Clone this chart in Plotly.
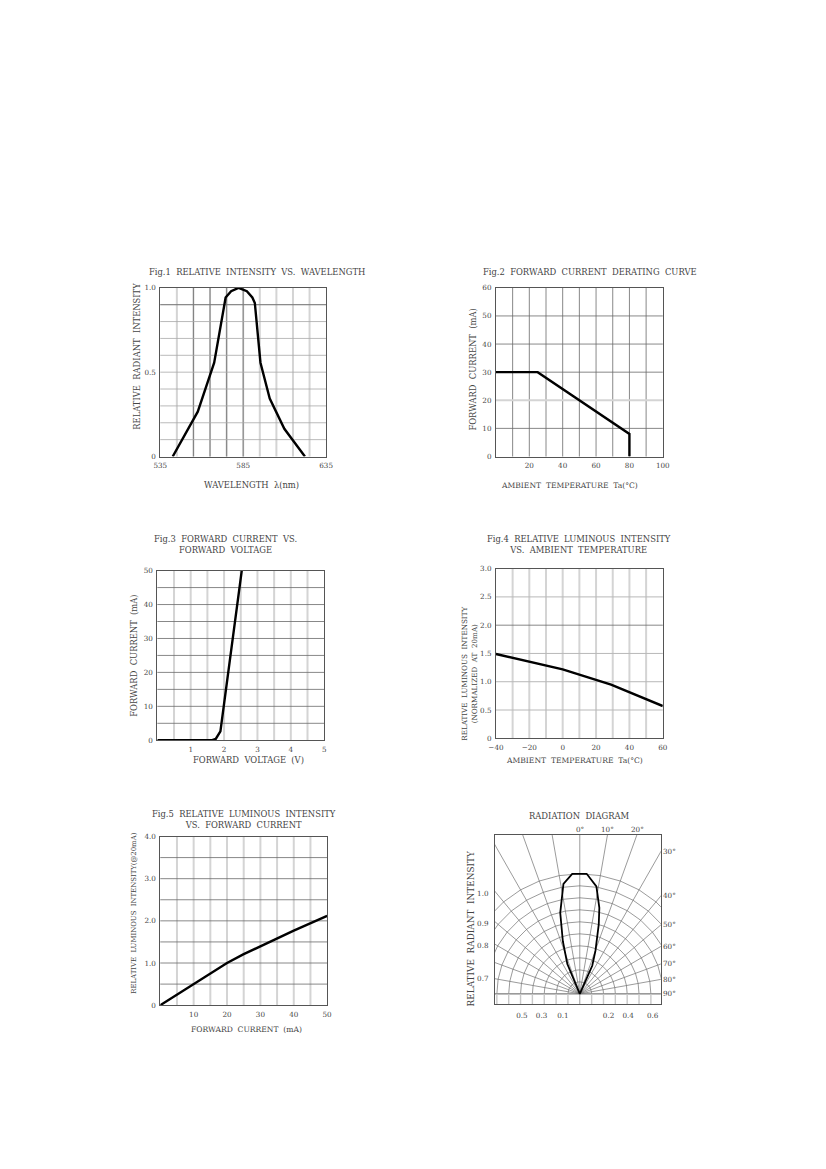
import numpy as np
import plotly.graph_objects as go

# ---- data ----
# Fig.1 relative intensity vs wavelength
wl_nm = [542.5, 557.6, 567.5, 574.4, 577.7, 582.2, 587.2, 590.5, 592.0, 595.4, 601.0, 609.8, 622.2]
rel_int = [0.0, 0.266, 0.556, 0.943, 0.98, 1.0, 0.98, 0.943, 0.91, 0.556, 0.344, 0.164, 0.0]

# Fig.2 forward current derating curve
derate_ta = [0, 25, 80, 80]
derate_if = [30, 30, 8, 0]

# Fig.3 forward current vs forward voltage
vf = [0.0, 1.62, 1.75, 1.89, 2.53]
if_ma = [0.0, 0.0, 0.4, 2.6, 50.0]

# Fig.4 relative luminous intensity vs ambient temperature
amb_ta = [-40, -9, 0, 29, 60]
lum_ta = [1.49, 1.28, 1.22, 0.95, 0.57]

# Fig.5 relative luminous intensity vs forward current
fwd_ma = [0, 10, 20, 25, 30, 40, 50]
lum_if = [0.0, 0.5, 1.0, 1.21, 1.4, 1.77, 2.12]

# radiation diagram pattern (diagram units, one arc = 1)
pattern_x = [0.0, -1.05, -1.43, -1.65, -1.38, -0.64, 0.58, 1.40, 1.65, 1.60, 1.32, 1.05, 0.0]
pattern_y = [0.0, 2.48, 4.38, 6.75, 9.15, 10.0, 10.0, 8.95, 7.16, 5.79, 3.58, 2.34, 0.0]
ray_angles = list(range(-90, 91, 10))
arc_radii = list(range(1, 11))
radial_tick_pos = [8.4, 5.83, 4.0, 1.29]
radial_tick_text = ["1.0", "0.9", "0.8", "0.7"]
bottom_tick_pos = [-4.88, -3.23, -1.43, 2.43, 4.08, 6.15]
bottom_tick_text = ["0.5", "0.3", "0.1", "0.2", "0.4", "0.6"]
top_angle_labels = [0, 10, 20]
side_angle_labels = [30, 40, 50, 60, 70, 80, 90]

# page is 826x1169, the browser puts the figure 8px in from the top-left
OFF = 8
W, H = 826 - 2 * OFF, 1169 - 2 * OFF
FONT = "DejaVu Serif"
TXT = "#444444"
LIGHT = "#d4d4d4"
DARK = "#6a6a6a"
AXC = "#555555"

fig = go.Figure()


def fx(px):
    return (px - OFF) / W


def fy(py):
    return 1 - (py - OFF) / H


def sfx(n):
    return "" if n == 1 else str(n)


def add_axes(n, box, xr, yr, xt, xtt, yt, ytt):
    left, right, top, bottom = box
    s = sfx(n)
    common = dict(showgrid=False, zeroline=False, showline=True, mirror=True,
                  linecolor=AXC, linewidth=1, ticks="", fixedrange=True,
                  ticklabelstandoff=2,
                  tickfont=dict(size=7.2, family=FONT, color=TXT))
    fig.update_layout(**{
        "xaxis" + s: dict(domain=[fx(left), fx(right)], range=xr, anchor="y" + s,
                          tickmode="array", tickvals=xt, ticktext=xtt, **common),
        "yaxis" + s: dict(domain=[fy(bottom), fy(top)], range=yr, anchor="x" + s,
                          tickmode="array", tickvals=yt, ticktext=ytt, **common),
    })


def grid(n, xs=(), ys=(), color=LIGHT, width=2):
    s = sfx(n)
    for v in xs:
        fig.add_shape(type="line", xref="x" + s, yref="y" + s + " domain",
                      x0=v, x1=v, y0=0, y1=1, layer="below",
                      line=dict(color=color, width=width))
    for v in ys:
        fig.add_shape(type="line", xref="x" + s + " domain", yref="y" + s,
                      x0=0, x1=1, y0=v, y1=v, layer="below",
                      line=dict(color=color, width=width))


def curve(n, x, y, width=2.4):
    s = sfx(n)
    fig.add_trace(go.Scatter(x=x, y=y, xaxis="x" + s, yaxis="y" + s, mode="lines",
                             line=dict(color="black", width=width),
                             showlegend=False, hoverinfo="skip"))


def label(x, y, text, size=8.4, angle=0):
    fig.add_annotation(x=fx(x), y=fy(y), xref="paper", yref="paper", text=text,
                       showarrow=False, textangle=angle, xanchor="center", yanchor="middle",
                       font=dict(size=size, family=FONT, color=TXT))


sp = "\u00a0\u00a0"

# Fig.1
add_axes(1, (155, 324, 286, 456), [535, 635], [0, 1],
         [535, 585, 635], ["535", "585", "635"], [0, 0.5, 1], ["0", "0.5", "1.0"])
grid(1, xs=np.arange(545, 635, 10))
grid(1, xs=[555, 565, 575, 585], color=DARK, width=0.8)
grid(1, ys=np.arange(0.1, 0.95, 0.1), color="#a8a8a8", width=0.8)
grid(1, ys=[0.9], color=DARK, width=0.8)
curve(1, wl_nm, rel_int)
label(254, 270, "Fig.1" + sp + "RELATIVE" + sp + "INTENSITY" + sp + "VS." + sp + "WAVELENGTH")
label(131.7, 355, "RELATIVE" + sp + "RADIANT" + sp + "INTENSITY", angle=-90)
label(248, 485, "WAVELENGTH" + sp + "λ(nm)")

# Fig.2
add_axes(2, (497, 667, 286, 456), [0, 100], [0, 60],
         [20, 40, 60, 80, 100], ["20", "40", "60", "80", "100"],
         list(range(0, 61, 10)), [str(v) for v in range(0, 61, 10)])
grid(2, xs=range(10, 100, 10), color=DARK, width=0.8)
grid(2, ys=[20], color=LIGHT, width=2)
grid(2, ys=[10, 30, 40, 50], color=DARK, width=0.8)
curve(2, derate_ta, derate_if)
label(593, 270, "Fig.2" + sp + "FORWARD" + sp + "CURRENT" + sp + "DERATING" + sp + "CURVE")
label(474, 368, "FORWARD" + sp + "CURRENT" + sp + "(mA)", angle=-90)
label(572, 485, "AMBIENT" + sp + "TEMPERATURE" + sp + "Ta(°C)", size=7.6)

# Fig.3
add_axes(3, (152, 322, 571, 742), [0, 5], [0, 50],
         [1, 2, 3, 4, 5], ["1", "2", "3", "4", "5"],
         list(range(0, 51, 10)), [str(v) for v in range(0, 51, 10)])
grid(3, xs=np.arange(0.5, 5, 0.5))
grid(3, ys=range(5, 50, 5), color=DARK, width=0.8)
curve(3, vf, if_ma)
label(221, 545, "Fig.3" + sp + "FORWARD" + sp + "CURRENT" + sp + "VS.<br>FORWARD" + sp + "VOLTAGE")
label(128, 657, "FORWARD" + sp + "CURRENT" + sp + "(mA)", angle=-90)
label(245, 762, "FORWARD" + sp + "VOLTAGE" + sp + "(V)")

# Fig.4
add_axes(4, (497, 667, 569, 740), [-40, 60], [0, 3],
         list(range(-40, 61, 20)), ["\u221240", "\u221220", "0", "20", "40", "60"],
         [0, 0.5, 1, 1.5, 2, 2.5, 3], ["0", "0.5", "1.0", "1.5", "2.0", "2.5", "3.0"])
grid(4, xs=range(-30, 60, 10))
grid(4, ys=[0.5, 1.0, 1.5, 2.5], color="#b8b8b8", width=1)
grid(4, ys=[2.0], color=DARK, width=0.8)
curve(4, amb_ta, lum_ta)
label(582, 545, "Fig.4" + sp + "RELATIVE" + sp + "LUMINOUS" + sp + "INTENSITY<br>VS." + sp + "AMBIENT" + sp + "TEMPERATURE")
label(469.5, 675, "RELATIVE" + sp + "LUMINOUS" + sp + "INTENSITY<br>(NORMALIZED" + sp + "AT" + sp + "20mA)",
      size=7.2, angle=-90)
label(577, 762, "AMBIENT" + sp + "TEMPERATURE" + sp + "Ta(°C)", size=7.6)

# Fig.5
add_axes(5, (155, 325, 839, 1009), [0, 50], [0, 4],
         [10, 20, 30, 40, 50], ["10", "20", "30", "40", "50"],
         [0, 1, 2, 3, 4], ["0", "1.0", "2.0", "3.0", "4.0"])
grid(5, xs=range(5, 50, 5))
grid(5, ys=np.arange(0.5, 4, 0.5), color=DARK, width=0.8)
curve(5, fwd_ma, lum_if)
label(240, 822, "Fig.5" + sp + "RELATIVE" + sp + "LUMINOUS" + sp + "INTENSITY<br>VS." + sp + "FORWARD" + sp + "CURRENT")
label(128, 916, "RELATIVE" + sp + "LUMINOUS" + sp + "INTENSITY(@20mA)", size=6.9, angle=-90)
label(243, 1034, "FORWARD" + sp + "CURRENT" + sp + "(mA)", size=7.6)

# Radiation diagram
rx = [-7.16, 6.84]
ry = [-0.86, 13.27]
add_axes(6, (496, 665, 837, 1008), rx, ry,
         bottom_tick_pos, bottom_tick_text, radial_tick_pos, radial_tick_text)
fig.update_layout(xaxis6=dict(ticklabelstandoff=4), yaxis6=dict(ticklabelstandoff=4))

R = 20
ray_x, ray_y = [], []
for a in ray_angles:
    t = np.radians(a)
    ray_x += [0, R * np.sin(t), None]
    ray_y += [0, R * np.cos(t), None]
ray_x += [0, 0, None, -R, R, None]
ray_y += [-2, 0, None, 0, 0, None]
fig.add_trace(go.Scatter(x=ray_x, y=ray_y, xaxis="x6", yaxis="y6", mode="lines",
                         line=dict(color="#707070", width=0.7), showlegend=False, hoverinfo="skip"))

arc_x, arc_y = [], []
for r in arc_radii:
    t = np.radians(ray_angles)
    arc_x += list(r * np.sin(t)) + [None]
    arc_y += list(r * np.cos(t)) + [None]
fig.add_trace(go.Scatter(x=arc_x, y=arc_y, xaxis="x6", yaxis="y6", mode="lines",
                         line=dict(color="#707070", width=0.7), showlegend=False, hoverinfo="skip"))

tick_x, tick_y = [], []
for r in arc_radii[:7]:
    for sgn in (-1, 1):
        tick_x += [sgn * r, sgn * r, None]
        tick_y += [0, -2, None]
fig.add_trace(go.Scatter(x=tick_x, y=tick_y, xaxis="x6", yaxis="y6", mode="lines",
                         line=dict(color="#c8c8c8", width=1.4), showlegend=False, hoverinfo="skip"))

curve(6, pattern_x, pattern_y, width=1.8)

for a in top_angle_labels:
    fig.add_annotation(x=ry[1] * np.tan(np.radians(a)), y=fy(831.7), xref="x6", yref="paper",
                       text=f"{a}°", showarrow=False, xanchor="center", yanchor="middle",
                       font=dict(size=7.2, family=FONT, color=TXT))
for a in side_angle_labels:
    yv = 0 if a == 90 else rx[1] / np.tan(np.radians(a))
    fig.add_annotation(x=fx(674), y=yv, xref="paper", yref="y6",
                       text=f"{a}°", showarrow=False, xanchor="center", yanchor="middle",
                       font=dict(size=7.2, family=FONT, color=TXT))
label(582, 818, "RADIATION" + sp + "DIAGRAM")
label(471.7, 932.5, "RELATIVE" + sp + "RADIANT" + sp + "INTENSITY", size=8.9, angle=-90)

fig.update_layout(width=W, height=H, margin=dict(l=0, r=0, t=0, b=0),
                  paper_bgcolor="white", plot_bgcolor="white", showlegend=False)

fig.write_html("out.html")
